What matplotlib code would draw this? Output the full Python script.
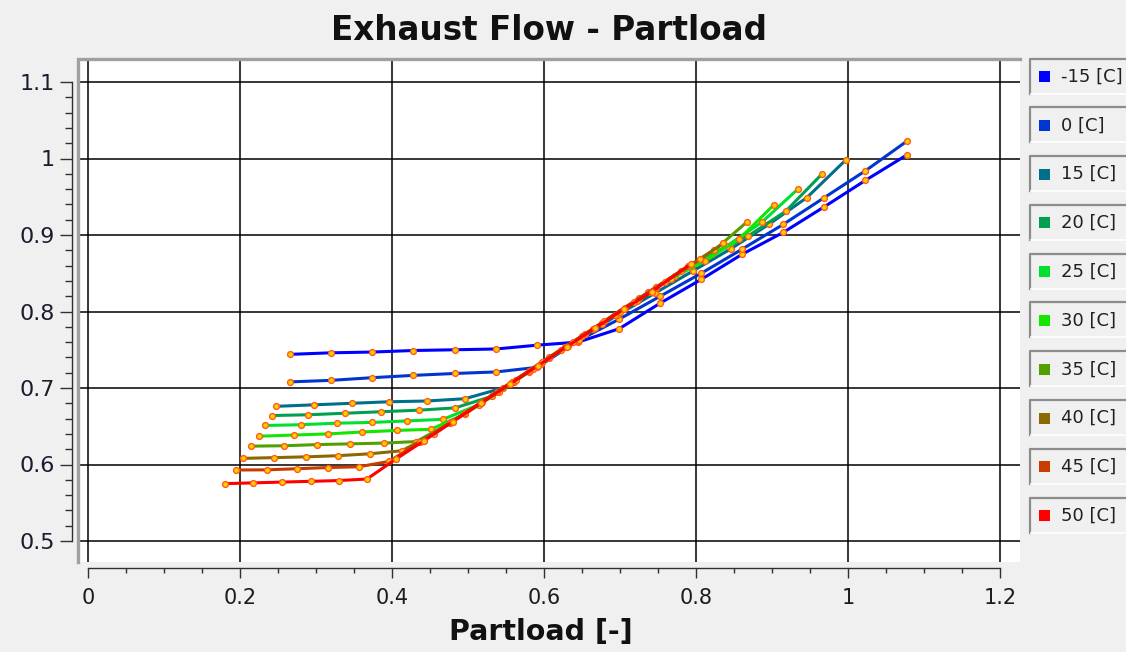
import numpy as np
import matplotlib
matplotlib.use('Agg')
import matplotlib.pyplot as plt
from matplotlib.patches import Rectangle
from matplotlib.lines import Line2D
from matplotlib.ticker import MultipleLocator, FixedLocator

# series labels and colours (legend order)
labels = ['-15 [C]', '0 [C]', '15 [C]', '20 [C]', '25 [C]',
          '30 [C]', '35 [C]', '40 [C]', '45 [C]', '50 [C]']
colors = ['#0000ff', '#0036d0', '#00708a', '#00a050', '#00e030',
          '#14e600', '#52a000', '#8a6a00', '#c83c00', '#ff0000']

# partload values per series
x_m15 = [0.266, 0.320, 0.374, 0.428, 0.483, 0.537, 0.591, 0.645, 0.699, 0.753, 0.807, 0.861, 0.915, 0.969, 1.023, 1.078]
x_0   = [0.266, 0.320, 0.374, 0.428, 0.483, 0.537, 0.591, 0.645, 0.699, 0.753, 0.807, 0.861, 0.915, 0.969, 1.023, 1.078]
x_15  = [0.247, 0.297, 0.347, 0.396, 0.446, 0.496, 0.546, 0.596, 0.646, 0.696, 0.746, 0.796, 0.846, 0.896, 0.946, 0.997]
x_20  = [0.2415, 0.290, 0.338, 0.386, 0.435, 0.483, 0.531, 0.580, 0.628, 0.676, 0.725, 0.773, 0.821, 0.869, 0.918, 0.966]
x_25  = [0.2335, 0.280, 0.327, 0.374, 0.420, 0.467, 0.514, 0.560, 0.607, 0.654, 0.700, 0.747, 0.794, 0.841, 0.887, 0.934]
x_30  = [0.2255, 0.2706, 0.316, 0.361, 0.406, 0.451, 0.496, 0.541, 0.586, 0.631, 0.676, 0.722, 0.767, 0.812, 0.857, 0.902]
x_35  = [0.214, 0.258, 0.301, 0.345, 0.389, 0.432, 0.476, 0.519, 0.563, 0.606, 0.650, 0.693, 0.737, 0.780, 0.824, 0.867]
x_40  = [0.2035, 0.2453, 0.287, 0.329, 0.371, 0.413, 0.455, 0.496, 0.538, 0.580, 0.622, 0.664, 0.706, 0.748, 0.790, 0.836]
x_45  = [0.1947, 0.235, 0.275, 0.316, 0.356, 0.396, 0.437, 0.477, 0.517, 0.558, 0.598, 0.638, 0.679, 0.719, 0.759, 0.805]
x_50  = [0.180, 0.2175, 0.255, 0.293, 0.330, 0.367, 0.405, 0.442, 0.480, 0.517, 0.555, 0.592, 0.630, 0.667, 0.705, 0.742, 0.793]

# exhaust flow values per series
y_m15 = [0.744, 0.746, 0.747, 0.749, 0.750, 0.751, 0.756, 0.760, 0.7775, 0.811, 0.842, 0.875, 0.9035, 0.937, 0.9715, 1.005]
y_0   = [0.708, 0.710, 0.7135, 0.7165, 0.719, 0.721, 0.727, 0.762, 0.790, 0.820, 0.850, 0.8817, 0.914, 0.949, 0.984, 1.023]
y_15  = [0.676, 0.678, 0.680, 0.682, 0.683, 0.686, 0.700, 0.731, 0.763, 0.795, 0.824, 0.853, 0.882, 0.914, 0.949, 0.998]
y_20  = [0.664, 0.665, 0.667, 0.669, 0.671, 0.674, 0.689, 0.721, 0.753, 0.785, 0.817, 0.847, 0.875, 0.899, 0.931, 0.980]
y_25  = [0.651, 0.652, 0.654, 0.655, 0.657, 0.659, 0.678, 0.708, 0.739, 0.770, 0.800, 0.831, 0.860, 0.886, 0.917, 0.960]
y_30  = [0.637, 0.6385, 0.640, 0.6425, 0.6445, 0.646, 0.666, 0.695, 0.725, 0.755, 0.784, 0.814, 0.843, 0.866, 0.895, 0.939]
y_35  = [0.624, 0.6245, 0.626, 0.627, 0.628, 0.630, 0.654, 0.682, 0.711, 0.740, 0.768, 0.796, 0.825, 0.853, 0.880, 0.917]
y_40  = [0.608, 0.609, 0.610, 0.6115, 0.614, 0.618, 0.640, 0.667, 0.695, 0.722, 0.750, 0.777, 0.805, 0.832, 0.859, 0.889]
y_45  = [0.5928, 0.593, 0.5945, 0.596, 0.597, 0.604, 0.629, 0.655, 0.681, 0.708, 0.734, 0.760, 0.787, 0.813, 0.839, 0.868]
y_50  = [0.575, 0.576, 0.577, 0.578, 0.579, 0.581, 0.607, 0.631, 0.656, 0.680, 0.705, 0.729, 0.754, 0.778, 0.803, 0.826, 0.862]

xs = [x_m15, x_0, x_15, x_20, x_25, x_30, x_35, x_40, x_45, x_50]
ys = [y_m15, y_0, y_15, y_20, y_25, y_30, y_35, y_40, y_45, y_50]

xticks = [0, 0.2, 0.4, 0.6, 0.8, 1.0, 1.2]
xticklabels = ['0', '0.2', '0.4', '0.6', '0.8', '1', '1.2']
yticks = [0.5, 0.6, 0.7, 0.8, 0.9, 1.0, 1.1]
yticklabels = ['0.5', '0.6', '0.7', '0.8', '0.9', '1', '1.1']

W, H = 1126, 652
bg = '#f0f0f0'
fig = plt.figure(figsize=(W / 100, H / 100), dpi=100, facecolor=bg)

# canvas in pixel coords -> figure fractions
cl, cr, ct, cb = 78, 1020, 59, 562
ax = fig.add_axes([cl / W, 1 - cb / H, (cr - cl) / W, (cb - ct) / H])
ax.set_facecolor('white')
ax.set_xlim(-10 / 760, 932 / 760)
ax.set_ylim(0.5 - 21 / 765, 0.5 + 482 / 765)

for x, y, c in zip(xs, ys, colors):
    ax.plot(x, y, color=c, lw=2.2, solid_capstyle='round', zorder=3,
            marker='o', ms=4.2, mfc='#ffd000', mec='#ff5a1a', mew=1.0)

ax.xaxis.set_minor_locator(MultipleLocator(0.05))
ax.yaxis.set_minor_locator(FixedLocator(np.arange(0.52, 1.1, 0.02)))
ax.set_xticks(xticks)
ax.set_xticklabels(xticklabels)
ax.set_yticks(yticks)
ax.set_yticklabels(yticklabels)
ax.grid(which='major', color='black', lw=1.1, zorder=1)
ax.set_axisbelow(True)

# scales detached from canvas (Qwt style)
for s in ['top', 'right']:
    ax.spines[s].set_visible(False)
ax.spines['left'].set_position(('outward', 4.3))
ax.spines['left'].set_bounds(0.5, 1.1)
ax.spines['bottom'].set_position(('outward', 4.3))
ax.spines['bottom'].set_bounds(0, 1.2)
for s in ['left', 'bottom']:
    ax.spines[s].set_color('#303030')
    ax.spines[s].set_linewidth(1.0)
ax.tick_params(axis='y', which='major', direction='out', length=8.6, width=1.0, pad=4,
               color='#303030', labelsize=16, labelcolor='#1c1c30')
ax.tick_params(axis='y', which='minor', direction='out', length=5, width=1.0, color='#303030')
ax.tick_params(axis='x', which='major', direction='out', length=7.2, width=1.0, pad=7,
               color='#303030', labelsize=15, labelcolor='#1c1c1c')
ax.tick_params(axis='x', which='minor', direction='out', length=3.6, width=1.0, color='#303030')

# sunken canvas frame (top and left)
ax.plot([0, 0, 1], [0, 1, 1], transform=ax.transAxes, color='#a0a0a0', lw=2.4,
        clip_on=False, zorder=5, solid_joinstyle='miter')

fig.text(549 / W, 1 - 30 / H, 'Exhaust Flow - Partload', ha='center', va='center',
         fontsize=23.5, fontweight='bold', color='#111111')
fig.text(541 / W, 1 - 632 / H, 'Partload [-]', ha='center', va='center',
         fontsize=20.5, fontweight='bold', color='#111111')

# legend buttons
for i, (lab, c) in enumerate(zip(labels, colors)):
    top = 58.5 + 48.8 * i
    hgt = 35
    fig.add_artist(Rectangle((1029 / W, 1 - (top + hgt) / H), 110 / W, hgt / H,
                             transform=fig.transFigure, facecolor=bg, edgecolor='none'))
    fig.add_artist(Line2D([1030 / W, 1030 / W, 1130 / W],
                          [1 - (top + hgt) / H, 1 - top / H, 1 - top / H],
                          transform=fig.transFigure, color='#8c8c8c', lw=1.6))
    fig.add_artist(Line2D([1031 / W, 1130 / W], [1 - (top + hgt) / H] * 2,
                          transform=fig.transFigure, color='white', lw=1.2))
    cy = top + 18
    fig.add_artist(Rectangle((1039 / W, 1 - (cy + 5.5) / H), 11 / W, 11 / H,
                             transform=fig.transFigure, facecolor=c, edgecolor='none'))
    fig.text(1061 / W, 1 - cy / H, lab, ha='left', va='center', fontsize=13, color='#202020')

fig.savefig('out.png', dpi=100, facecolor=bg)
